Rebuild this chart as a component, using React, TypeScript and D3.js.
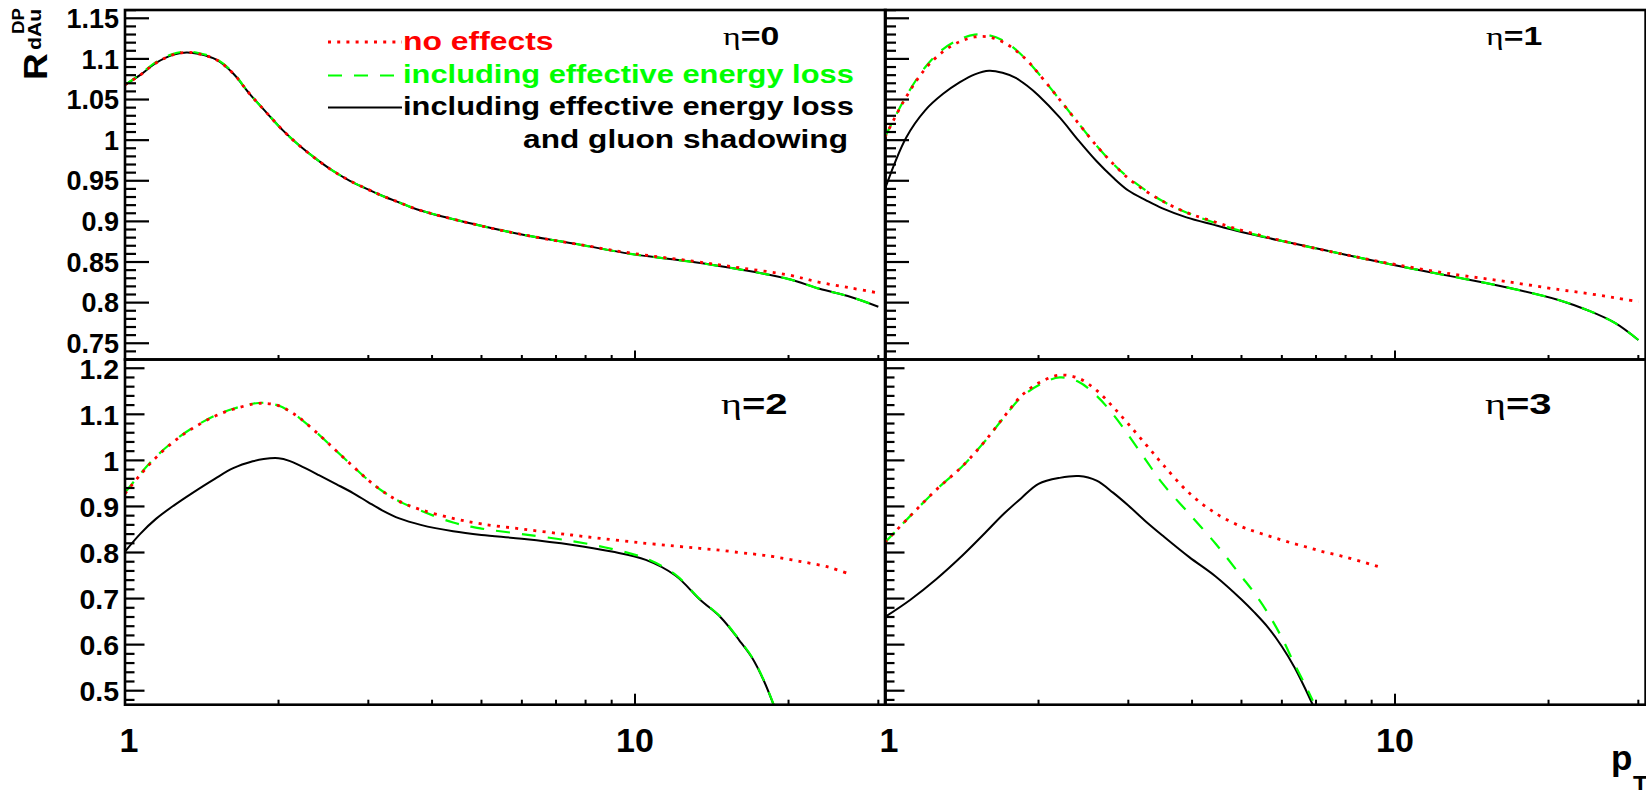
import React from 'react';
import * as d3 from 'd3';

// ---------------- data ----------------
const X_TICKS = [1, 2, 3, 4, 5, 6, 7, 8, 9, 10, 20, 30];
const X_LABELS = ['1', '10'];
const Y_TOP_LABELS = ['0.75', '0.8', '0.85', '0.9', '0.95', '1', '1.05', '1.1', '1.15'];
const Y_BOT_LABELS = ['0.5', '0.6', '0.7', '0.8', '0.9', '1', '1.1', '1.2'];
const ETA_LABELS = ['0', '1', '2', '3'];
const LEGEND_LABELS = ['no effects', 'including effective energy loss', 'including effective energy loss', 'and gluon shadowing'];

// eta = 0
const PT0 = [1.0, 1.07, 1.15, 1.24, 1.32, 1.4, 1.51, 1.63, 1.75, 1.9, 2.04, 2.2, 2.38, 2.56, 2.76, 2.98, 3.21, 3.46, 3.73, 4.8, 6.1, 7.7, 9.8, 13, 16, 20, 23, 26.5, 30];
const RED0 = [1.068, 1.080, 1.095, 1.105, 1.108, 1.106, 1.099, 1.082, 1.058, 1.033, 1.012, 0.993, 0.976, 0.962, 0.950, 0.940, 0.931, 0.923, 0.915, 0.897, 0.883, 0.872, 0.861, 0.851, 0.843, 0.834, 0.825, 0.818, 0.812];
const GREEN0 = [1.068, 1.081, 1.096, 1.106, 1.109, 1.107, 1.100, 1.083, 1.058, 1.033, 1.012, 0.993, 0.976, 0.962, 0.950, 0.940, 0.931, 0.923, 0.915, 0.897, 0.883, 0.872, 0.860, 0.850, 0.841, 0.829, 0.817, 0.807, 0.795];
const BLACK0 = [1.068, 1.080, 1.095, 1.105, 1.108, 1.106, 1.099, 1.082, 1.058, 1.033, 1.012, 0.993, 0.976, 0.962, 0.950, 0.940, 0.931, 0.923, 0.915, 0.897, 0.883, 0.872, 0.860, 0.850, 0.841, 0.829, 0.817, 0.807, 0.795];

// eta = 1
const PT1 = [1.0, 1.1, 1.2, 1.3, 1.4, 1.5, 1.6, 1.7, 1.8, 1.9, 2.0, 2.2, 2.4, 2.6, 2.8, 3.0, 3.25, 3.5, 3.9, 4.4, 5.0, 6.3, 8.0, 10, 13, 16.5, 21, 24, 27, 30];
const RED1 = [1.004, 1.053, 1.088, 1.109, 1.121, 1.127, 1.127, 1.121, 1.111, 1.098, 1.082, 1.050, 1.020, 0.993, 0.971, 0.953, 0.937, 0.925, 0.911, 0.900, 0.889, 0.873, 0.859, 0.847, 0.835, 0.826, 0.816, 0.811, 0.806, 0.801];
const GREEN1 = [1.004, 1.054, 1.090, 1.112, 1.124, 1.130, 1.129, 1.123, 1.112, 1.098, 1.082, 1.050, 1.020, 0.993, 0.971, 0.954, 0.938, 0.925, 0.911, 0.899, 0.888, 0.873, 0.859, 0.846, 0.832, 0.819, 0.803, 0.790, 0.775, 0.754];
const BLACK1 = [0.940, 1.003, 1.037, 1.057, 1.071, 1.081, 1.0855, 1.083, 1.077, 1.067, 1.055, 1.028, 0.999, 0.974, 0.954, 0.938, 0.926, 0.916, 0.905, 0.896, 0.887, 0.873, 0.859, 0.846, 0.832, 0.819, 0.803, 0.790, 0.775, 0.754];

// eta = 2
const PT2 = [1.0, 1.07, 1.15, 1.25, 1.35, 1.5, 1.63, 1.78, 1.87, 2.0, 2.1, 2.2, 2.4, 2.6, 2.8, 3.0, 3.2, 3.45, 3.8, 4.4, 5.0, 6.0, 7.5, 9.0, 10.5, 12, 13.4, 14.7, 16, 17, 17.9, 18.7, 21, 24, 26.5];
const RED2 = [0.928, 0.968, 1.006, 1.042, 1.068, 1.096, 1.111, 1.122, 1.124, 1.119, 1.107, 1.092, 1.056, 1.020, 0.987, 0.957, 0.933, 0.911, 0.893, 0.874, 0.862, 0.851, 0.838, 0.828, 0.820, 0.814, 0.809, 0.805, 0.800, 0.797, 0.794, 0.791, 0.781, 0.768, 0.752];
const GREEN2 = [0.930, 0.970, 1.008, 1.043, 1.069, 1.097, 1.112, 1.123, 1.125, 1.119, 1.107, 1.092, 1.056, 1.020, 0.987, 0.957, 0.933, 0.911, 0.891, 0.865, 0.852, 0.840, 0.825, 0.808, 0.787, 0.752, 0.699, 0.661, 0.611, 0.571, 0.522, 0.470, null, null, null];
const BLACK2 = [0.802, 0.840, 0.873, 0.903, 0.928, 0.960, 0.983, 0.998, 1.003, 1.0046, 0.999, 0.989, 0.968, 0.948, 0.929, 0.909, 0.891, 0.874, 0.860, 0.846, 0.838, 0.830, 0.817, 0.802, 0.784, 0.750, 0.698, 0.660, 0.610, 0.570, 0.521, 0.469, null, null, null];

// eta = 3
const PT3 = [1.0, 1.12, 1.26, 1.42, 1.56, 1.71, 1.85, 2.0, 2.2, 2.4, 2.6, 2.8, 3.0, 3.25, 3.5, 3.95, 4.45, 5.0, 5.3, 5.65, 6.0, 6.35, 6.65, 6.9, 7.15, 8.0, 9.3];
const RED3 = [0.822, 0.879, 0.936, 0.988, 1.038, 1.094, 1.140, 1.168, 1.185, 1.178, 1.152, 1.116, 1.079, 1.034, 0.992, 0.929, 0.885, 0.856, 0.846, 0.836, 0.827, 0.819, 0.813, 0.808, 0.803, 0.790, 0.769];
const GREEN3 = [0.822, 0.879, 0.936, 0.988, 1.038, 1.093, 1.137, 1.163, 1.180, 1.170, 1.140, 1.100, 1.055, 1.000, 0.950, 0.884, 0.819, 0.748, 0.712, 0.666, 0.615, 0.558, 0.515, 0.478, null, null, null];
const BLACK3 = [0.660, 0.697, 0.742, 0.794, 0.839, 0.884, 0.918, 0.949, 0.962, 0.966, 0.956, 0.930, 0.902, 0.867, 0.837, 0.790, 0.748, 0.698, 0.670, 0.636, 0.596, 0.551, 0.507, 0.469, null, null, null];

// ---------------- layout ----------------
const W = 1646;
const H = 790;
const FONT = '"Liberation Sans", Arial, Helvetica, sans-serif';
const SERIF = '"Liberation Serif", "Times New Roman", serif';
const COLS = [125, 885];
const PANEL_W = 760.6;
const ROWS = [
  { y0: 10, y1: 359.5, dom: [0.73, 1.1602], majLen: 24, minLen: 11, xMaj: 9, xMin: 4.5, labFs: 27 },
  { y0: 359.5, y1: 704.7, dom: [0.4696, 1.219], majLen: 19.5, minLen: 9.5, xMaj: 11, xMin: 5, labFs: 28.5 },
];
const RED = '#ff0000';
const GREEN = '#00ff00';
const RED_DASH = '3 6.2';
const GREEN_DASH = '14 12';

type Panel = {
  pt: number[]; red: (number | null)[]; green: (number | null)[]; black: (number | null)[];
  col: number; row: number; label: string; lx: number; ly: number; fs: number; sx: number;
};

const PANELS: Panel[] = [
  { pt: PT0, red: RED0, green: GREEN0, black: BLACK0, col: 0, row: 0, label: ETA_LABELS[0], lx: 723, ly: 45, fs: 26, sx: 1.3 },
  { pt: PT1, red: RED1, green: GREEN1, black: BLACK1, col: 1, row: 0, label: ETA_LABELS[1], lx: 1486, ly: 45, fs: 26, sx: 1.3 },
  { pt: PT2, red: RED2, green: GREEN2, black: BLACK2, col: 0, row: 1, label: ETA_LABELS[2], lx: 721, ly: 414, fs: 29, sx: 1.38 },
  { pt: PT3, red: RED3, green: GREEN3, black: BLACK3, col: 1, row: 1, label: ETA_LABELS[3], lx: 1485, ly: 414, fs: 29, sx: 1.38 },
];

function PanelView({ p, idx }: { p: Panel; idx: number }) {
  const row = ROWS[p.row];
  const x0 = COLS[p.col];
  const x = d3.scaleLog().domain([1, 31]).range([x0, x0 + PANEL_W]);
  const y = d3.scaleLinear().domain(row.dom).range([row.y1, row.y0]);
  const mk = (vals: (number | null)[]) =>
    d3.line<number>()
      .defined((_d, i) => vals[i] != null)
      .x((d) => x(d))
      .y((_d, i) => y(vals[i] as number))
      .curve(d3.curveCatmullRom.alpha(0.5))(p.pt) || '';

  const isTop = p.row === 0;
  const yMinor = isTop
    ? d3.range(73, 117).map((i) => ({ v: i / 100, major: i % 5 === 0 }))
    : d3.range(24, 61).map((i) => ({ v: i * 0.02, major: i % 5 === 0 }));
  const yLabels = isTop ? Y_TOP_LABELS : Y_BOT_LABELS;
  const clipId = `clip${idx}`;

  return (
    <g>
      <defs>
        <clipPath id={clipId}>
          <rect x={x0} y={row.y0} width={PANEL_W} height={row.y1 - row.y0} />
        </clipPath>
      </defs>
      <g clipPath={`url(#${clipId})`} fill="none">
        <path d={mk(p.black)} stroke="#000" strokeWidth={2} />
        <path d={mk(p.green)} stroke={GREEN} strokeWidth={2.2} strokeDasharray={GREEN_DASH} />
        <path d={mk(p.red)} stroke={RED} strokeWidth={2.8} strokeDasharray={RED_DASH} />
      </g>
      {yMinor.map((t, i) => {
        const yy = y(t.v);
        if (yy < row.y0 - 0.5 || yy > row.y1 + 0.5) return null;
        return (
          <line key={'y' + i} x1={x0} x2={x0 + (t.major ? row.majLen : row.minLen)} y1={yy} y2={yy}
            stroke="#000" strokeWidth={2.2} />
        );
      })}
      {X_TICKS.map((v, i) => {
        const xx = x(v);
        const major = v === 1 || v === 10;
        return (
          <line key={'x' + i} x1={xx} x2={xx} y1={row.y1} y2={row.y1 - (major ? row.xMaj : row.xMin)}
            stroke="#000" strokeWidth={2} />
        );
      })}
      <rect x={x0} y={row.y0} width={PANEL_W} height={row.y1 - row.y0} fill="none" stroke="#000" strokeWidth={2.6} />
      {p.col === 0 && yLabels.map((s) => (
        <text key={s} x={119} y={y(parseFloat(s)) + row.labFs * 0.36} textAnchor="end"
          fontFamily={FONT} fontWeight="bold" fontSize={row.labFs} fill="#000">{s}</text>
      ))}
      {p.row === 1 && X_LABELS.map((s) => (
        <text key={s} x={x(parseFloat(s)) + (s === '1' ? 4 : 0)} y={752} textAnchor="middle"
          fontFamily={FONT} fontWeight="bold" fontSize={34} fill="#000">{s}</text>
      ))}
      <text transform={`translate(${p.lx},${p.ly}) scale(${p.sx},1)`} fontSize={p.fs} fill="#000">
        <tspan fontFamily={SERIF}>η</tspan>
        <tspan fontFamily={FONT} fontWeight="bold">={p.label}</tspan>
      </text>
    </g>
  );
}

function Legend() {
  const rows = [
    { y: 42, ty: 50, color: RED, dash: RED_DASH, sw: 2.8, text: LEGEND_LABELS[0], sx: 1.25 },
    { y: 75.5, ty: 82.5, color: GREEN, dash: GREEN_DASH, sw: 2.2, text: LEGEND_LABELS[1], sx: 1.21 },
    { y: 107.5, ty: 115, color: '#000', dash: undefined, sw: 2, text: LEGEND_LABELS[2], sx: 1.21 },
  ];
  return (
    <g>
      {rows.map((r, i) => (
        <g key={i}>
          <line x1={328} x2={402} y1={r.y} y2={r.y} stroke={r.color} strokeWidth={r.sw} strokeDasharray={r.dash} />
          <text transform={`translate(403,${r.ty}) scale(${r.sx},1)`} fontFamily={FONT} fontWeight="bold"
            fontSize={25.5} fill={r.color}>{r.text}</text>
        </g>
      ))}
      <text transform={`translate(848,147.5) scale(1.24,1)`} textAnchor="end" fontFamily={FONT} fontWeight="bold"
        fontSize={25.5} fill="#000">{LEGEND_LABELS[3]}</text>
    </g>
  );
}

function YTitle() {
  return (
    <g transform="translate(47,80) rotate(-90)" fontFamily={FONT} fontWeight="bold" fill="#000">
      <text transform="scale(1.12,1)" fontSize={33}>R</text>
      <text transform="translate(46,-23) scale(1.1,1)" fontSize={17}>DP</text>
      <text transform="translate(30,-6) scale(1.12,1)" fontSize={19}>dAu</text>
    </g>
  );
}

export default function App() {
  return (
    <svg width={W} height={H} viewBox={`0 0 ${W} ${H}`}
      style={{ position: 'fixed', left: 0, top: 0, background: '#fff' }}>
      <rect x={0} y={0} width={W} height={H} fill="#fff" />
      {PANELS.map((p, i) => <PanelView key={i} p={p} idx={i} />)}
      <Legend />
      <YTitle />
      <text x={1611} y={770} fontFamily={FONT} fontWeight="bold" fontSize={35} fill="#000">p</text>
      <text x={1633} y={793} fontFamily={FONT} fontWeight="bold" fontSize={24} fill="#000">T</text>
    </svg>
  );
}
